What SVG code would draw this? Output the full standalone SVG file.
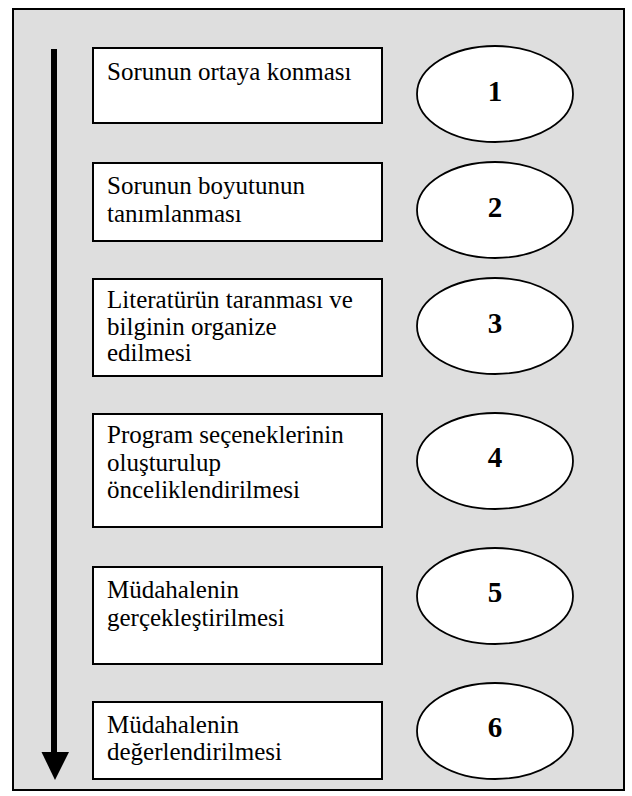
<svg xmlns="http://www.w3.org/2000/svg" width="632" height="796" viewBox="0 0 632 796">
<style>
.box{fill:#fff;stroke:#000;stroke-width:2}
.ell{fill:#fff;stroke:#000;stroke-width:1.8}
.t{font-family:"Liberation Serif","DejaVu Serif",serif;font-size:25px;fill:#000}
.n{font-family:"Liberation Serif","DejaVu Serif",serif;font-size:29px;font-weight:bold;fill:#000;text-anchor:middle}
</style>
<rect x="13" y="9" width="611" height="781" fill="#dedede" stroke="#000" stroke-width="2"/>
<g id="connectors">
<line x1="54" y1="49" x2="54" y2="754" stroke="#000" stroke-width="6"/>
<polygon points="41.5,752 69,752 55,780" fill="#000"/>
</g>
<g id="step1"><rect class="box" x="93" y="48" width="289" height="75"/><text class="t" x="107" y="80">Sorunun ortaya konması</text></g>
<g id="step2"><rect class="box" x="93" y="163" width="289" height="78"/><text class="t" x="107" y="194">Sorunun boyutunun</text><text class="t" x="107" y="222">tanımlanması</text></g>
<g id="step3"><rect class="box" x="93" y="279" width="289" height="97"/><text class="t" x="107" y="308">Literatürün taranması ve</text><text class="t" x="107" y="335">bilginin organize</text><text class="t" x="107" y="361">edilmesi</text></g>
<g id="step4"><rect class="box" x="93" y="414" width="289" height="113"/><text class="t" x="107" y="443">Program seçeneklerinin</text><text class="t" x="107" y="471">oluşturulup</text><text class="t" x="107" y="498">önceliklendirilmesi</text></g>
<g id="step5"><rect class="box" x="93" y="567" width="289" height="97"/><text class="t" x="107" y="598">Müdahalenin</text><text class="t" x="107" y="626">gerçekleştirilmesi</text></g>
<g id="step6"><rect class="box" x="93" y="702" width="289" height="77"/><text class="t" x="107" y="733">Müdahalenin</text><text class="t" x="107" y="760">değerlendirilmesi</text></g>
<g id="num1"><ellipse class="ell" cx="495" cy="94" rx="78" ry="48"/><text class="n" x="495" y="101">1</text></g>
<g id="num2"><ellipse class="ell" cx="495" cy="210" rx="78" ry="48"/><text class="n" x="495" y="217">2</text></g>
<g id="num3"><ellipse class="ell" cx="495" cy="326" rx="78" ry="48"/><text class="n" x="495" y="333">3</text></g>
<g id="num4"><ellipse class="ell" cx="495" cy="461" rx="78" ry="48"/><text class="n" x="495" y="467">4</text></g>
<g id="num5"><ellipse class="ell" cx="495" cy="596" rx="78" ry="48"/><text class="n" x="495" y="602">5</text></g>
<g id="num6"><ellipse class="ell" cx="495" cy="731" rx="78" ry="48"/><text class="n" x="495" y="737">6</text></g>
</svg>
